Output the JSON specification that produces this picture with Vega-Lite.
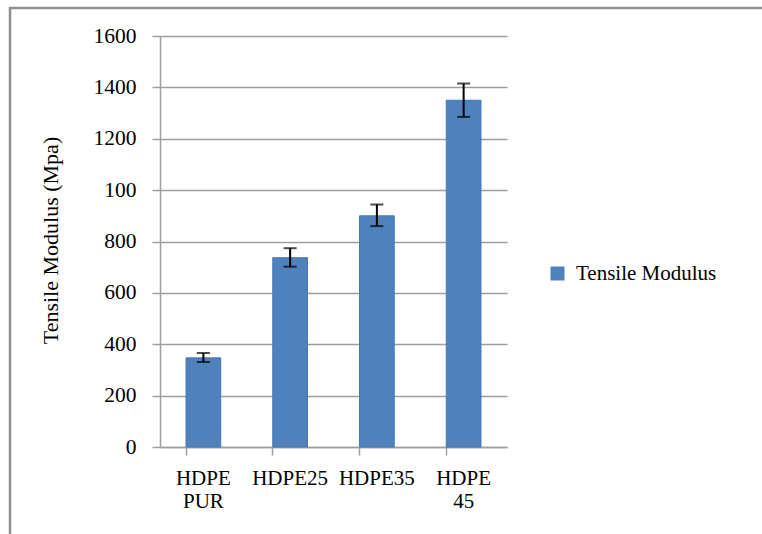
{
  "$schema": "https://vega.github.io/schema/vega-lite/v6.json",
  "width": 752,
  "height": 526,
  "autosize": {"type": "none"},
  "padding": {"left": 10, "top": 8, "right": 0, "bottom": 0},
  "background": "white",
  "config": {
    "view": {"stroke": "#8f8f8f", "strokeWidth": 2.5, "strokeDash": [752, 1278, 526]},
    "font": "Liberation Serif"
  },
  "data": {
    "values": [
      {"sample": "HDPE PUR", "modulus": 347, "lo": 331, "hi": 366},
      {"sample": "HDPE25", "modulus": 737, "lo": 702, "hi": 774},
      {"sample": "HDPE35", "modulus": 900, "lo": 860, "hi": 944},
      {"sample": "HDPE 45", "modulus": 1350, "lo": 1285, "hi": 1415}
    ]
  },
  "layer": [
    {
      "mark": {"type": "bar", "stroke": "#4577b3", "strokeWidth": 1},
      "encoding": {
        "x": {
          "field": "sample",
          "type": "nominal",
          "sort": null,
          "scale": {"range": [150, 497], "paddingInner": 0.6, "paddingOuter": 0.3},
          "axis": {
            "title": null,
            "labelAngle": 0,
            "bandPosition": 0,
            "offset": -87,
            "grid": false,
            "domainColor": "#9e9e9e",
            "domainWidth": 1.5,
            "tickColor": "#9e9e9e",
            "tickWidth": 1.5,
            "tickSize": 8,
            "labelExpr": "split(datum.label, ' ')",
            "labelFont": "Liberation Serif",
            "labelFontSize": 21,
            "labelColor": "black",
            "labelPadding": 12,
            "labelLineHeight": 23.5
          }
        },
        "y": {
          "field": "modulus",
          "type": "quantitative",
          "scale": {"domain": [0, 1600], "range": [439, 28], "nice": false},
          "axis": {
            "values": [0, 200, 400, 600, 800, 1000, 1200, 1400, 1600],
            "labelExpr": "datum.value == 1000 ? '100' : datum.label",
            "format": "d",
            "offset": -150,
            "grid": true,
            "gridColor": "#9e9e9e",
            "gridWidth": 1.5,
            "domainColor": "#9e9e9e",
            "domainWidth": 1.5,
            "tickColor": "#9e9e9e",
            "tickWidth": 1.5,
            "tickSize": 8,
            "labelFont": "Liberation Serif",
            "labelFontSize": 21.5,
            "labelColor": "black",
            "labelPadding": 16,
            "title": "Tensile Modulus (Mpa)",
            "titleFont": "Liberation Serif",
            "titleFontSize": 22,
            "titleFontWeight": "normal",
            "titleColor": "black",
            "titleAngle": -90,
            "titleAlign": "center",
            "titleBaseline": "alphabetic",
            "titleX": -103,
            "titleY": 232
          }
        },
        "color": {
          "datum": "Tensile Modulus",
          "type": "nominal",
          "scale": {"range": ["#4f81bd"]},
          "legend": {
            "orient": "none",
            "legendX": 537,
            "legendY": 255,
            "title": null,
            "padding": 0,
            "symbolType": "square",
            "symbolSize": 196,
            "symbolStrokeWidth": 0,
            "labelFont": "Liberation Serif",
            "labelFontSize": 21,
            "labelColor": "black",
            "labelOffset": 8
          }
        }
      }
    },
    {
      "mark": {"type": "rule", "color": "black", "strokeWidth": 2},
      "encoding": {
        "x": {"field": "sample", "type": "nominal", "sort": null},
        "y": {"field": "lo", "type": "quantitative"},
        "y2": {"field": "hi"}
      }
    },
    {
      "mark": {"type": "tick", "color": "black", "thickness": 2, "size": 13},
      "encoding": {
        "x": {"field": "sample", "type": "nominal", "sort": null},
        "y": {"field": "lo", "type": "quantitative"}
      }
    },
    {
      "mark": {"type": "tick", "color": "black", "thickness": 2, "size": 13},
      "encoding": {
        "x": {"field": "sample", "type": "nominal", "sort": null},
        "y": {"field": "hi", "type": "quantitative"}
      }
    }
  ]
}
